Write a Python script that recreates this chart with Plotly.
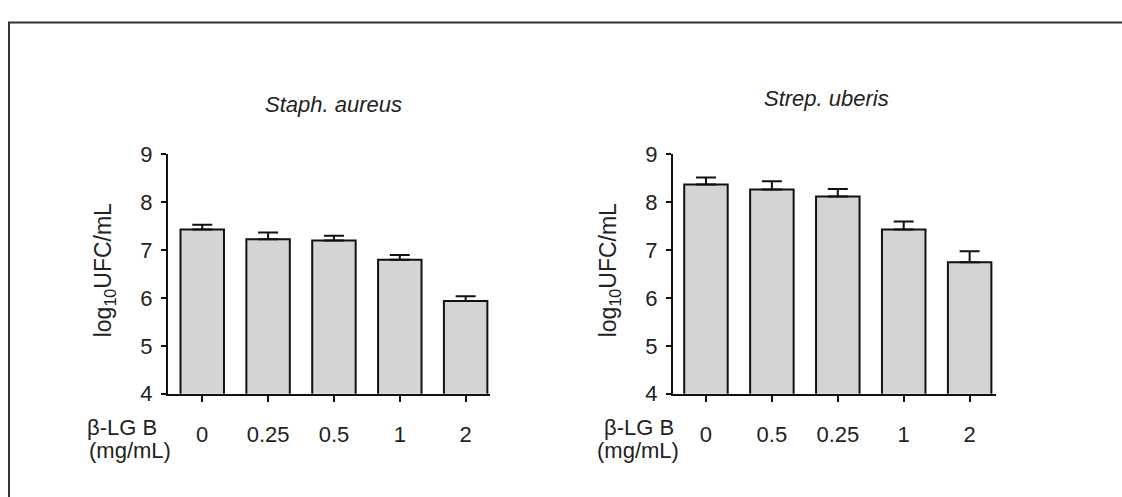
import plotly.graph_objects as go

W, H = 1122, 497

# Data: log10 UFC/mL after exposure to beta-lactoglobulin B
staph_doses = ["0", "0.25", "0.5", "1", "2"]
staph_means = [7.43, 7.23, 7.20, 6.80, 5.94]
staph_err = [0.10, 0.14, 0.10, 0.10, 0.10]

strep_doses = ["0", "0.5", "0.25", "1", "2"]
strep_means = [8.37, 8.27, 8.12, 7.43, 6.75]
strep_err = [0.15, 0.17, 0.16, 0.17, 0.23]

y_ticks = [4, 5, 6, 7, 8, 9]

FONT = "Liberation Sans"
TEXT = "#222222"
FS = 22


def px_x(p):
    return p / W


def px_y(p):
    return 1 - p / H


fig = go.Figure()


def add_bars(x, y, err, xa, ya):
    fig.add_trace(go.Bar(
        x=x, y=y, xaxis=xa, yaxis=ya, width=0.66,
        marker=dict(color="#d4d4d4", line=dict(color="#111111", width=2)),
        error_y=dict(type="data", symmetric=False, array=err,
                     arrayminus=[0] * len(err), color="#111111",
                     thickness=2, width=10),
        showlegend=False,
    ))


add_bars(staph_doses, staph_means, staph_err, "x", "y")
add_bars(strep_doses, strep_means, strep_err, "x2", "y2")

xcommon = dict(showline=True, linecolor="#111111", linewidth=2,
               ticks="outside", ticklen=6, tickwidth=2, tickcolor="#111111",
               showgrid=False, zeroline=False, type="category",
               ticklabelstandoff=14,
               tickfont=dict(family=FONT, size=FS, color=TEXT))
ycommon = dict(showline=True, linecolor="#111111", linewidth=2,
               ticks="outside", ticklen=5, tickwidth=2, tickcolor="#111111",
               showgrid=False, zeroline=False, range=[4, 9],
               tickvals=y_ticks, ticklabelstandoff=4,
               tickfont=dict(family=FONT, size=FS, color=TEXT))

ybot, ytop = px_y(402), px_y(150)

fig.update_layout(
    width=W, height=H,
    margin=dict(l=0, r=0, t=0, b=0),
    paper_bgcolor="white", plot_bgcolor="white",
    bargap=0.34,
    xaxis=dict(domain=[px_x(168), px_x(490)], range=[-0.52, 4.37],
               anchor="y", **xcommon),
    yaxis=dict(domain=[ybot, ytop], anchor="x", **ycommon),
    xaxis2=dict(domain=[px_x(673), px_x(996)], range=[-0.5, 4.4],
                anchor="y2", **xcommon),
    yaxis2=dict(domain=[ybot, ytop], anchor="x2", **ycommon),
)

annots = []
# panel titles
annots.append(dict(text="<i>Staph. aureus</i>", x=px_x(333), y=px_y(97)))
annots.append(dict(text="<i>Strep. uberis</i>", x=px_x(826), y=px_y(91)))
# y-axis titles
for xp in (104, 609):
    annots.append(dict(text="log<sub>10</sub>UFC/mL", x=px_x(xp), y=px_y(272),
                       textangle=-90, size=23))
# dose labels
annots.append(dict(text="β-LG B", x=px_x(85), y=px_y(437), xanchor="left"))
annots.append(dict(text="(mg/mL)", x=px_x(87), y=px_y(462), xanchor="left"))
annots.append(dict(text="β-LG B", x=px_x(602), y=px_y(437), xanchor="left"))
annots.append(dict(text="(mg/mL)", x=px_x(595), y=px_y(462), xanchor="left"))

for a in annots:
    a.setdefault("xanchor", "center")
    size = a.pop("size", FS)
    a.update(xref="paper", yref="paper", yanchor="middle", showarrow=False,
             font=dict(family=FONT, size=size, color=TEXT))
    fig.add_annotation(**a)

# outer frame around the figure
fig.add_shape(type="rect", xref="paper", yref="paper",
              x0=px_x(9), y0=-0.05, x1=1.05, y1=px_y(11),
              line=dict(color="#333333", width=2))

fig.write_html("out.html")
